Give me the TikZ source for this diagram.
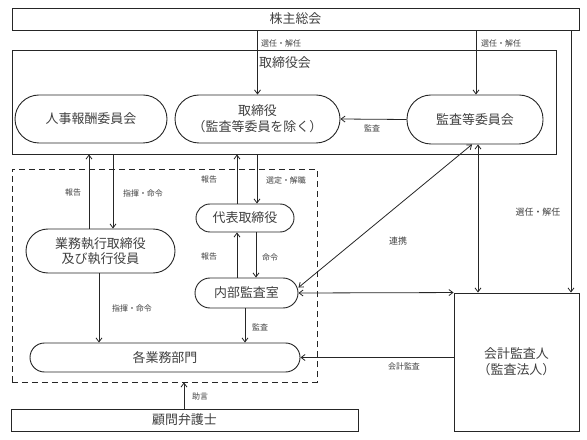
\documentclass[tikz,border=0pt]{standalone}
\usepackage{fontspec}
\setmainfont{Noto Sans CJK JP}
\usetikzlibrary{arrows.meta}
\begin{document}
\begin{tikzpicture}[x=1bp,y=-1bp,
  ln/.style={draw=black!85, line width=0.8bp},
  arr/.style={ln, -{Straight Barb[length=4bp,width=6bp]}},
  darr/.style={ln, {Straight Barb[length=4bp,width=6bp]}-{Straight Barb[length=4bp,width=6bp]}},
  box/.style={draw=black!85, line width=0.9bp, inner sep=0pt, align=center,
     font=\fontsize{13}{16}\selectfont, text=black!75},
  pill/.style={box, rounded corners=#1},
  lbl/.style={font=\fontsize{8}{9}\selectfont, text=black!75, inner sep=0pt},
  lblb/.style={font=\fontsize{9}{10}\selectfont, text=black!75, inner sep=0pt}
]
\useasboundingbox (0,0) rectangle (587,440);
\fill[white] (0,0) rectangle (587,440);

% boxes
\node[box, minimum width=567bp, minimum height=22bp] (soukai) at (295.5,19) {株主総会};
\node[box, minimum width=544bp, minimum height=104bp] (torikai) at (284,102) {};
\node[box, draw=none] (torikailbl) at (285,63) {取締役会};
\node[box, dashed, dash pattern=on 6bp off 4bp, minimum width=305bp, minimum height=213bp] (dash) at (164.5,275.5) {};

\node[pill=24bp, minimum width=152bp, minimum height=48bp] (jinji) at (91,119) {人事報酬委員会};
\node[pill=24bp, minimum width=165bp, minimum height=48bp] (tori) at (257.5,119) {取締役\\（監査等委員を除く）};
\node[pill=24bp, minimum width=136bp, minimum height=49bp] (kansa) at (475,119.5) {監査等委員会};

\node[pill=22bp, minimum width=149bp, minimum height=44bp, font=\fontsize{13}{15}\selectfont] (gyomu) at (100.5,251) {業務執行取締役\\及び執行役員};
\node[pill=14bp, minimum width=98bp, minimum height=28bp] (daihyo) at (245,218) {代表取締役};
\node[pill=15bp, minimum width=103bp, minimum height=30bp] (naibu) at (246.5,293) {内部監査室};
\node[pill=14.5bp, minimum width=270bp, minimum height=29bp] (kaku) at (165,357.5) {各業務部門};
\node[box, minimum width=347bp, minimum height=22bp] (komon) at (184.5,420) {顧問弁護士};
\node[box, minimum width=125bp, minimum height=138bp] (kaikei) at (516.5,362) {会計監査人\\（監査法人）};

% connectors
\draw[arr] (soukai.south -| tori.north) -- (tori.north);
\node[lbl, anchor=west] (l1) at (261,43) {選任・解任};
\draw[arr] (soukai.south -| 476,0) -- (kansa.north -| 476,0);
\node[lbl, anchor=west] (l2) at (481,43) {選任・解任};
\draw[arr] (soukai.south -| 571,0) -- (kaikei.north -| 571,0);
\node[lblb] (l3) at (538,212) {選任・解任};

\draw[arr] (kansa.west) -- (tori.east);
\node[lbl] (l4) at (372,128) {監査};

\draw[arr] (gyomu.north -| 89,0) -- (torikai.south -| 89,0);
\node[lbl] (l5) at (73,193) {報告};
\draw[arr] (torikai.south -| 113,0) -- (gyomu.north -| 113,0);
\node[lbl] (l6) at (143,193) {指揮・命令};

\draw[arr] (daihyo.north -| 237,0) -- (torikai.south -| 237,0);
\node[lbl] (l7) at (209,180) {報告};
\draw[arr] (torikai.south -| 257,0) -- (daihyo.north -| 257,0);
\node[lbl] (l8) at (286,180) {選定・解職};

\draw[arr] (naibu.north -| 237,0) -- (daihyo.south -| 237,0);
\node[lbl] (l9) at (209,257) {報告};
\draw[arr] (daihyo.south -| 256,0) -- (naibu.north -| 256,0);
\node[lbl] (l10) at (270,257) {命令};

\draw[darr] (kansa.south -| 472,0) -- (naibu.6);
\node[lblb] (l11) at (398,241) {連携};
\draw[darr] (kansa.south -| 478,0) -- (kaikei.north -| 478,0);
\draw[darr] (naibu.east) -- (kaikei.north west);

\draw[arr] (gyomu.south -| 99,0) -- (kaku.north -| 99,0);
\node[lbl] (l12) at (132,308) {指揮・命令};
\draw[arr] (naibu.south -| 245,0) -- (kaku.north -| 245,0);
\node[lbl] (l13) at (260,327) {監査};
\draw[arr] (kaikei.west |- kaku.east) -- (kaku.east);
\node[lbl] (l14) at (404,366) {会計監査};
\draw[arr] (komon.north -| 184,0) -- (dash.south -| 184,0);
\node[lbl] (l15) at (200,396) {助言};
\end{tikzpicture}
\end{document}
